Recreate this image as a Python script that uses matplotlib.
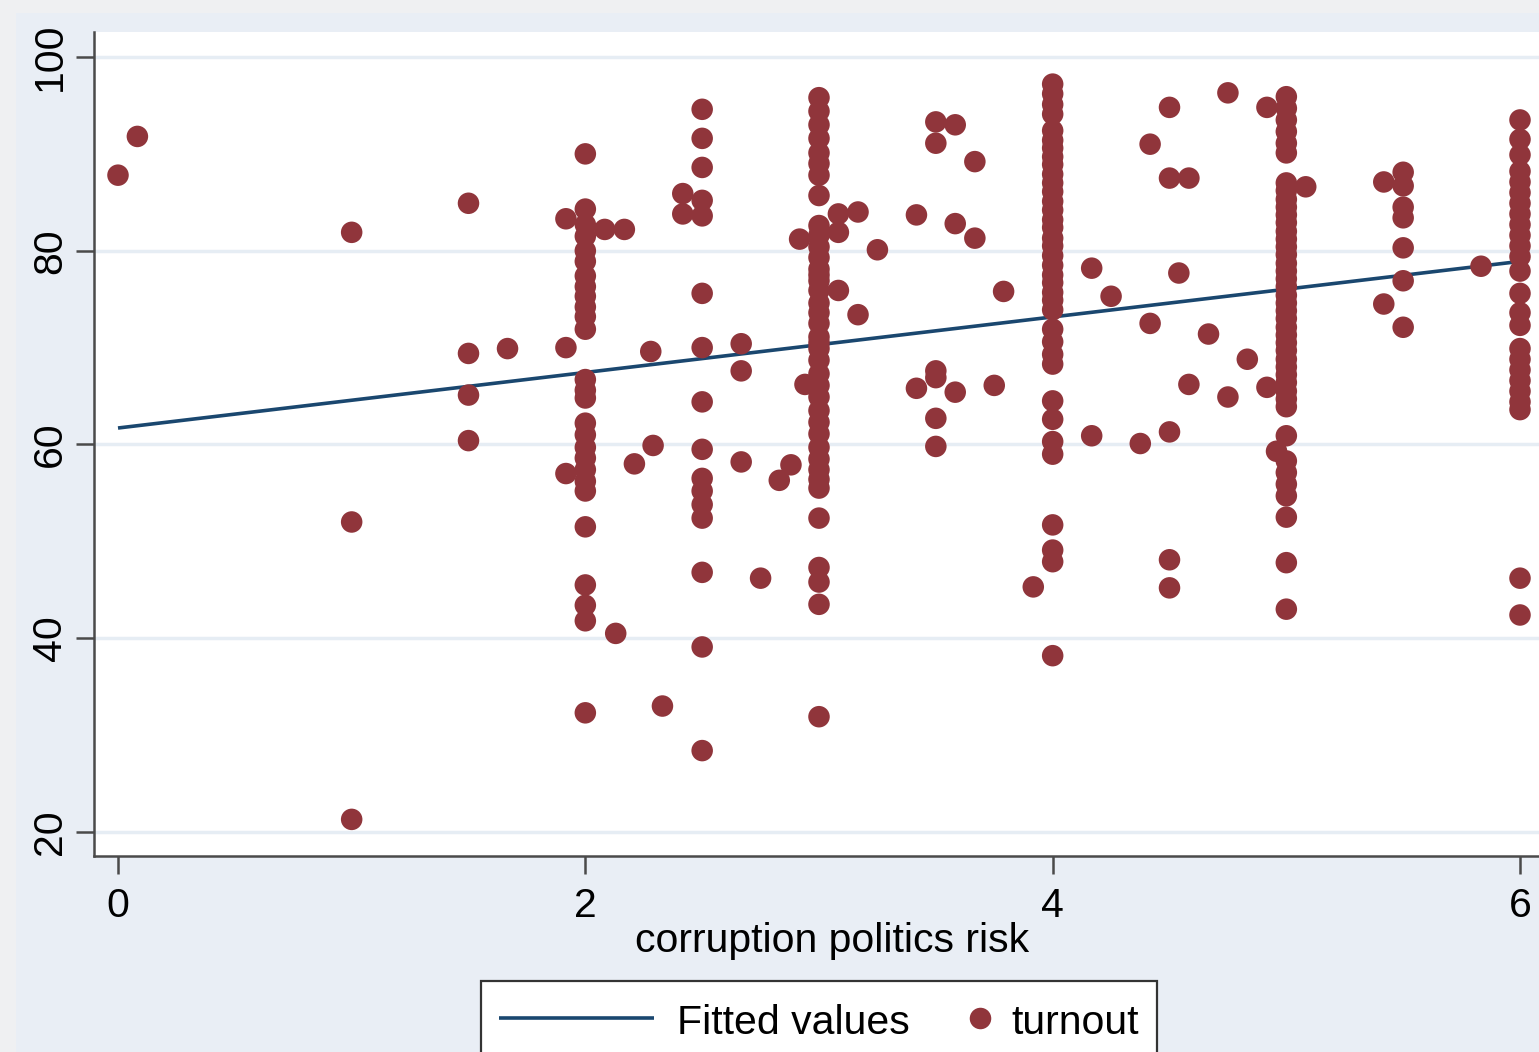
import matplotlib
matplotlib.use("Agg")
import matplotlib.pyplot as plt
from matplotlib.patches import Rectangle
from matplotlib.lines import Line2D
from matplotlib.offsetbox import DrawingArea, TextArea, HPacker, VPacker, AnchoredOffsetbox

# ---------------- data ----------------
risk = (
    [0.0, 0.083]
    + [1.0] * 3
    + [1.5] * 4
    + [1.667]
    + [1.917] * 3
    + [2.0] * 27
    + [2.083, 2.167, 2.13, 2.28, 2.21, 2.29, 2.33, 2.417, 2.417]
    + [2.5] * 16
    + [2.667] * 3
    + [2.75, 2.83, 2.88, 2.917, 2.94]
    + [3.0] * 39
    + [3.083] * 3
    + [3.167] * 2
    + [3.25]
    + [3.417] * 2
    + [3.5] * 6
    + [3.583] * 3
    + [3.667] * 2
    + [3.75, 3.79, 3.917]
    + [4.0] * 37
    + [4.167, 4.167, 4.25, 4.375, 4.417, 4.417]
    + [4.5] * 5
    + [4.54, 4.583, 4.583, 4.667, 4.75, 4.75, 4.833, 4.917, 4.917, 4.958]
    + [5.0] * 43
    + [5.083, 5.417, 5.417]
    + [5.5] * 7
    + [5.833]
    + [6.0] * 25
)

turnout = (
    [87.8, 91.8]
    + [81.9, 52.0, 21.3]
    + [84.9, 69.4, 65.1, 60.4]
    + [69.9]
    + [83.3, 70.0, 57.0]
    + [90.0, 84.3, 82.7, 81.5, 80.0, 78.9, 77.4, 76.3, 75.3, 74.2, 73.2, 71.9,
       66.7, 65.6, 64.8, 62.2, 61.0, 59.7, 58.6, 57.4, 56.2, 55.2, 51.5, 45.5,
       43.4, 41.8, 32.3]
    + [82.2, 82.2, 40.5, 69.6, 58.0, 59.9, 33.0, 85.9, 83.8]
    + [94.6, 91.6, 88.6, 85.2, 83.6, 75.6, 70.0, 64.4, 59.5, 56.5, 55.2, 53.8,
       52.4, 46.8, 39.1, 28.4]
    + [70.4, 67.6, 58.2]
    + [46.2, 56.3, 57.9, 81.2, 66.2]
    + [95.8, 94.4, 93.0, 91.6, 90.1, 89.0, 87.8, 85.7, 81.6, 80.4, 79.3, 78.1,
       76.9, 75.9, 73.6, 72.5, 71.1, 69.9, 68.7, 67.3, 66.1, 64.9, 63.5, 62.3,
       61.1, 59.7, 58.5, 57.4, 56.4, 55.5, 52.4, 47.3, 45.8, 43.5, 31.9, 82.6,
       77.5, 74.6, 70.5]
    + [83.8, 81.9, 75.9]
    + [84.0, 73.4]
    + [80.1]
    + [83.7, 65.8]
    + [93.3, 91.1, 67.6, 66.9, 62.7, 59.8]
    + [93.0, 82.8, 65.4]
    + [89.2, 81.3]
    + [66.1, 75.8, 45.3]
    + [97.2, 96.2, 95.1, 94.1, 92.4, 91.4, 90.6, 89.7, 88.9, 87.9, 87.0, 86.1,
       85.1, 84.2, 83.2, 82.4, 81.3, 80.5, 79.5, 78.5, 77.5, 76.7, 75.7, 74.9,
       73.9, 71.9, 70.6, 69.3, 68.3, 64.5, 62.6, 60.3, 59.0, 51.7, 49.1, 47.9,
       38.2]
    + [78.2, 60.9, 75.3, 60.1, 91.0, 72.5]
    + [94.8, 87.5, 61.3, 48.1, 45.2]
    + [77.7, 87.5, 66.2, 71.4, 96.3, 64.9, 68.8, 94.8, 65.9, 59.3]
    + [95.9, 94.7, 93.5, 92.3, 91.1, 90.1, 87.0, 86.2, 85.3, 84.5, 83.7, 82.9,
       82.0, 81.2, 80.4, 79.6, 78.7, 77.9, 77.1, 76.3, 75.4, 74.6, 73.8, 73.0,
       72.1, 71.3, 70.5, 69.7, 68.8, 68.0, 67.2, 66.4, 65.5, 64.7, 63.9, 60.9,
       58.3, 57.1, 55.9, 54.7, 52.5, 47.8, 43.0]
    + [86.6, 87.1, 74.5]
    + [88.1, 86.7, 84.5, 83.4, 80.3, 76.9, 72.1]
    + [78.4]
    + [93.5, 91.5, 89.9, 88.2, 87.1, 86.0, 84.9, 83.8, 82.7, 81.6, 80.5, 79.4,
       77.9, 75.6, 73.6, 72.3, 69.9, 68.8, 67.7, 66.6, 65.5, 64.4, 63.6, 46.2,
       42.4]
)

fit_x = [0.0, 6.0]
fit_y = [61.7, 78.9]

x_ticks = [0, 2, 4, 6]
y_ticks = [20, 40, 60, 80, 100]
x_title = "corruption politics risk"
legend_labels = ["Fitted values", "turnout"]

# ---------------- styling ----------------
plt.rcParams['font.family'] = ['Liberation Sans', 'DejaVu Sans']
FS = 29.5
NAVY = '#1a476f'
MAROON = '#90353b'
AXC = '#4a4a4a'

W, H = 1539, 1052
fig = plt.figure(figsize=(W / 100, H / 100), dpi=100)
fig.patch.set_facecolor('#e9eef5')
fig.patches.append(Rectangle((0, 0), 16 / W, 1, transform=fig.transFigure,
                             facecolor='#eff0f2', edgecolor='none', zorder=-5))
fig.patches.append(Rectangle((0, 1 - 13 / H), 1, 13 / H, transform=fig.transFigure,
                             facecolor='#eff0f2', edgecolor='none', zorder=-5))

ax = fig.add_axes([94 / W, (H - 856) / H, (1544 - 94) / W, (856 - 32) / H])
ax.set_facecolor('white')
ax.set_xlim(-0.1027, 6.1027)
ax.set_ylim(17.52, 102.58)

ax.plot(fit_x, fit_y, color=NAVY, lw=2.6, zorder=2, solid_capstyle='butt')
ax.scatter(risk, turnout, s=240, color=MAROON, edgecolors='none', zorder=3)

ax.set_xticks(x_ticks)
ax.set_yticks(y_ticks)
ax.yaxis.grid(True, color='#e6edf4', lw=2.5)
ax.set_axisbelow(True)

for s in ['top', 'right']:
    ax.spines[s].set_visible(False)
for s in ['left', 'bottom']:
    ax.spines[s].set_color(AXC)
    ax.spines[s].set_linewidth(1.8)

ax.tick_params(axis='both', length=13, width=1.8, color=AXC, labelsize=FS,
               labelcolor='black')
ax.tick_params(axis='x', pad=9)
ax.tick_params(axis='y', pad=5, labelrotation=90)
for lab in ax.get_yticklabels():
    lab.set_va('center')

ax.set_xlabel(x_title, fontsize=FS)
ax.xaxis.set_label_coords((832 - 94) / 1450, (856 - 922) / 824)
ax.xaxis.label.set_va('top')

# ---------------- legend (Stata style) ----------------
pt = 72 / 100.0  # points per pixel
shift = 5 * pt
da_line = DrawingArea(178 * pt, 30 * pt, 0, 0)
da_line.add_artist(Line2D([0, 155 * pt], [15 * pt + shift, 15 * pt + shift],
                          color=NAVY, lw=2.6, solid_capstyle='butt'))
da_dot = DrawingArea(102 * pt, 30 * pt, 0, 0)
da_dot.add_artist(Line2D([70 * pt], [15 * pt + shift], marker='o', markersize=15.5,
                         color=MAROON, markeredgewidth=0, linestyle='none'))
ta1 = TextArea(legend_labels[0], textprops=dict(fontsize=FS))
ta2 = TextArea(legend_labels[1], textprops=dict(fontsize=FS))
row = HPacker(children=[da_line, ta1, da_dot, ta2], align='center', pad=0, sep=0)
pack = VPacker(children=[DrawingArea(1, shift, 0, 0), row], align='left', pad=0, sep=0)
anch = AnchoredOffsetbox(loc='upper center', child=pack, pad=0.43, borderpad=0,
                         frameon=True, bbox_to_anchor=(819 / W, 1 - 981 / H),
                         bbox_transform=fig.transFigure, prop=dict(size=FS))
anch.patch.set_boxstyle('square', pad=0)
anch.patch.set_edgecolor('#333333')
anch.patch.set_linewidth(1.6)
anch.patch.set_facecolor('white')
fig.add_artist(anch)

fig.savefig('out.png', dpi=100, facecolor=fig.get_facecolor())
